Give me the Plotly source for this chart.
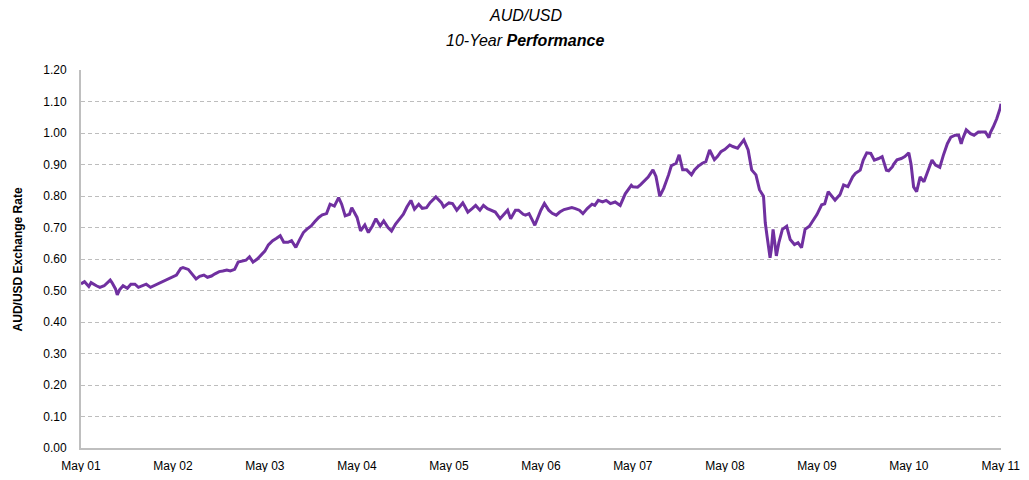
import plotly.graph_objects as go

dates = [
    "2001-05-01","2001-05-15","2001-06-01","2001-06-10","2001-07-01","2001-07-15","2001-08-01","2001-08-25",
    "2001-09-01","2001-09-15","2001-09-22","2001-10-01","2001-10-15","2001-11-01","2001-11-15","2001-12-01",
    "2001-12-15","2002-01-01","2002-01-15","2002-02-01","2002-02-15","2002-03-01","2002-03-15","2002-04-01",
    "2002-04-15","2002-05-01","2002-05-15","2002-06-01","2002-06-10","2002-07-01","2002-07-15","2002-08-01",
    "2002-08-15","2002-09-01","2002-09-15","2002-10-01","2002-10-15","2002-11-01","2002-11-15","2002-12-01",
    "2002-12-15","2003-01-01","2003-01-15","2003-02-01","2003-02-15","2003-03-01","2003-03-15","2003-04-01",
    "2003-04-15","2003-05-01","2003-05-15","2003-06-01","2003-06-15","2003-07-01","2003-07-15","2003-08-01",
    "2003-08-15","2003-09-01","2003-09-15","2003-10-01","2003-10-15","2003-11-01","2003-11-15","2003-12-01",
    "2003-12-15","2004-01-01","2004-01-15","2004-02-01","2004-02-18","2004-03-01","2004-03-15","2004-04-01",
    "2004-04-10","2004-05-01","2004-05-15","2004-06-01","2004-06-15","2004-07-01","2004-07-15","2004-08-01",
    "2004-08-15","2004-09-01","2004-09-15","2004-10-01","2004-10-15","2004-11-01","2004-11-15","2004-12-01",
    "2004-12-15","2005-01-01","2005-01-15","2005-02-01","2005-02-15","2005-03-01","2005-03-10","2005-04-01",
    "2005-04-10","2005-05-01","2005-05-15","2005-06-01","2005-06-25","2005-07-01","2005-07-15","2005-08-01",
    "2005-08-15","2005-09-01","2005-09-15","2005-10-01","2005-10-15","2005-11-01","2005-11-20","2005-12-01",
    "2005-12-20","2006-01-01","2006-01-20","2006-02-01","2006-02-20","2006-03-01","2006-03-15","2006-04-01",
    "2006-04-07","2006-05-01","2006-05-15","2006-06-01","2006-06-15","2006-07-01","2006-07-15","2006-08-01",
    "2006-08-15","2006-09-01","2006-09-15","2006-10-01","2006-10-15","2006-11-01","2006-11-20","2006-12-01",
    "2006-12-15","2007-01-01","2007-01-15","2007-02-01","2007-02-20","2007-03-01","2007-03-12","2007-04-01",
    "2007-04-25","2007-05-01","2007-05-20","2007-06-01","2007-06-20","2007-07-01","2007-07-20","2007-08-01",
    "2007-08-16","2007-09-01","2007-09-20","2007-10-01","2007-10-20","2007-11-01","2007-11-15","2007-12-01",
    "2007-12-20","2008-01-01","2008-01-15","2008-02-01","2008-02-15","2008-03-01","2008-03-20","2008-04-01",
    "2008-04-15","2008-05-01","2008-05-20","2008-06-01","2008-06-20","2008-07-01","2008-07-15","2008-08-01",
    "2008-08-15","2008-09-01","2008-09-15","2008-10-01","2008-10-08","2008-10-15","2008-10-20","2008-10-27",
    "2008-11-01","2008-11-08","2008-11-15","2008-11-21","2008-12-01","2008-12-15","2009-01-01","2009-01-15",
    "2009-02-01","2009-02-15","2009-03-01","2009-03-15","2009-04-01","2009-04-20","2009-05-01","2009-05-20",
    "2009-06-01","2009-06-15","2009-07-01","2009-07-12","2009-08-01","2009-08-15","2009-09-01","2009-09-20",
    "2009-10-01","2009-10-20","2009-11-01","2009-11-15","2009-12-01","2009-12-15","2010-01-01","2010-01-15",
    "2010-02-01","2010-02-10","2010-02-25","2010-03-01","2010-03-15","2010-04-01","2010-04-15","2010-05-01",
    "2010-05-10","2010-05-20","2010-06-01","2010-06-15","2010-06-30","2010-07-15","2010-08-01","2010-08-15",
    "2010-09-01","2010-09-15","2010-10-01","2010-10-15","2010-11-01","2010-11-15","2010-11-25","2010-12-01",
    "2010-12-15","2011-01-01","2011-01-15","2011-02-01","2011-02-15","2011-03-01","2011-03-15","2011-03-20",
    "2011-04-01","2011-04-15","2011-04-28","2011-05-02",
]

rates = [
    0.521,0.528,0.513,0.525,0.515,0.510,0.515,0.533,
    0.525,0.505,0.486,0.502,0.515,0.507,0.520,0.520,
    0.510,0.515,0.520,0.510,0.515,0.520,0.525,0.533,
    0.538,0.542,0.549,0.570,0.573,0.567,0.554,0.537,
    0.545,0.549,0.542,0.546,0.553,0.560,0.562,0.565,
    0.562,0.567,0.590,0.593,0.596,0.607,0.590,0.600,
    0.612,0.625,0.645,0.658,0.665,0.674,0.653,0.653,
    0.658,0.637,0.660,0.684,0.695,0.705,0.718,0.732,
    0.740,0.744,0.774,0.768,0.795,0.774,0.737,0.742,
    0.763,0.732,0.689,0.708,0.684,0.705,0.728,0.705,
    0.721,0.700,0.689,0.711,0.725,0.742,0.765,0.786,
    0.758,0.774,0.761,0.763,0.779,0.790,0.797,0.779,
    0.765,0.778,0.776,0.755,0.778,0.770,0.749,0.760,
    0.770,0.755,0.770,0.760,0.755,0.749,0.728,0.739,
    0.755,0.728,0.755,0.755,0.742,0.739,0.744,0.717,
    0.707,0.755,0.776,0.755,0.745,0.739,0.749,0.757,
    0.760,0.763,0.760,0.755,0.744,0.760,0.774,0.770,
    0.786,0.781,0.786,0.776,0.781,0.776,0.770,0.807,
    0.834,0.829,0.828,0.836,0.852,0.860,0.883,0.862,
    0.799,0.825,0.867,0.896,0.904,0.931,0.883,0.883,
    0.867,0.883,0.894,0.904,0.909,0.946,0.915,0.925,
    0.941,0.948,0.962,0.957,0.952,0.962,0.978,0.946,
    0.883,0.867,0.820,0.799,0.715,0.673,0.650,0.604,
    0.630,0.694,0.650,0.610,0.652,0.694,0.704,0.662,
    0.646,0.652,0.636,0.694,0.704,0.730,0.741,0.772,
    0.775,0.814,0.798,0.787,0.805,0.835,0.830,0.861,
    0.872,0.882,0.914,0.937,0.935,0.914,0.919,0.925,
    0.882,0.880,0.893,0.900,0.915,0.919,0.925,0.937,
    0.900,0.829,0.814,0.861,0.845,0.880,0.914,0.898,
    0.891,0.929,0.966,0.987,0.993,0.993,0.966,0.982,
    1.010,0.998,0.993,1.003,1.003,1.003,0.985,1.000,
    1.019,1.045,1.077,1.093,
]

tick_dates = ["2001-05-01","2002-05-01","2003-05-01","2004-05-01","2005-05-01","2006-05-01",
              "2007-05-01","2008-05-01","2009-05-01","2010-05-01","2011-05-01"]
tick_text = ["May 01","May 02","May 03","May 04","May 05","May 06",
             "May 07","May 08","May 09","May 10","May 11"]
y_ticks = [0.0,0.1,0.2,0.3,0.4,0.5,0.6,0.7,0.8,0.9,1.0,1.1,1.2]

font_family = "Liberation Sans, Arial, sans-serif"

fig = go.Figure()
fig.add_trace(go.Scatter(x=dates, y=rates, mode="lines",
                         line=dict(color="#7030A0", width=3), showlegend=False))

fig.update_layout(
    width=1013, height=464,
    paper_bgcolor="white", plot_bgcolor="white",
    margin=dict(l=73, r=20, t=62, b=24, autoexpand=False),
    font=dict(family=font_family, size=12, color="black"),
    annotations=[
        dict(text="<i>AUD/USD</i>", xref="paper", yref="paper", x=0.483, y=1.145,
             xanchor="center", yanchor="middle", showarrow=False,
             font=dict(family=font_family, size=16, color="black")),
        dict(text="<i>10-Year <b>Performance</b></i>", xref="paper", yref="paper", x=0.483, y=1.079,
             xanchor="center", yanchor="middle", showarrow=False,
             font=dict(family=font_family, size=16, color="black")),
        dict(text="<b>AUD/USD Exchange Rate</b>", xref="paper", yref="paper", x=-0.068, y=0.5,
             xanchor="center", yanchor="middle", showarrow=False, textangle=-90,
             font=dict(family=font_family, size=12, color="black")),
    ],
)
fig.update_xaxes(type="date", range=["2001-05-01", "2011-05-02"], automargin=False,
                 tickmode="array", tickvals=tick_dates, ticktext=tick_text,
                 showgrid=False, showline=True, linecolor="#BFBFBF", linewidth=2,
                 ticks="", ticklabelstandoff=6, tickfont=dict(size=12, color="black"))
fig.update_yaxes(range=[0, 1.2], tickmode="array", tickvals=y_ticks, automargin=False,
                 tickformat=".2f", showgrid=True, gridcolor="#BDBDBD", griddash="4px,3px",
                 gridwidth=1, showline=True, linecolor="#BFBFBF", linewidth=2,
                 zeroline=False, ticks="", ticklabelstandoff=10,
                 tickfont=dict(size=12, color="black"))

fig.write_html("out.html")
